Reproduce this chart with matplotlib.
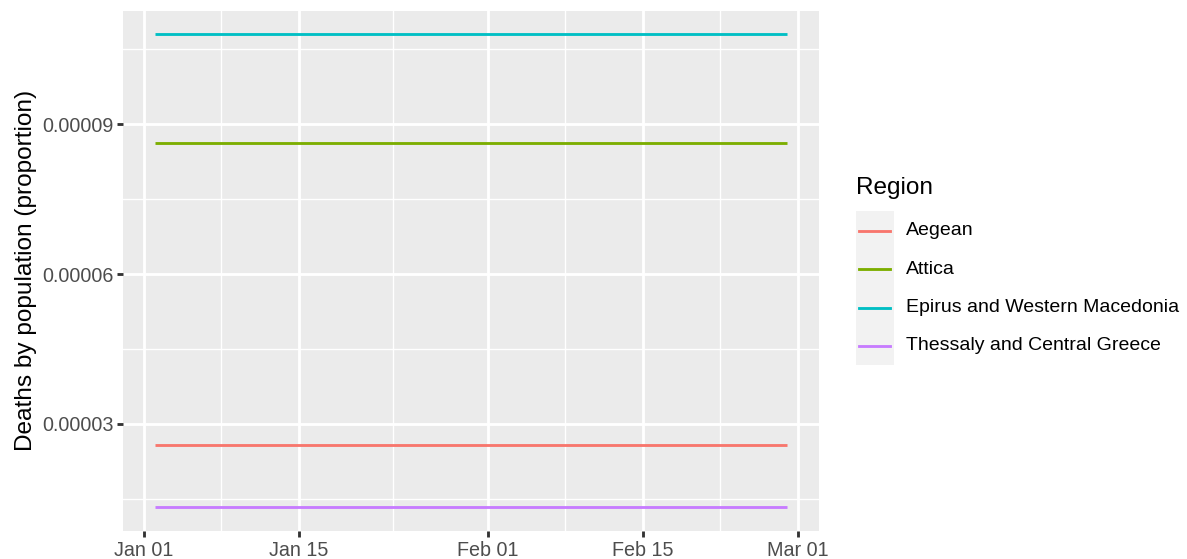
import matplotlib
matplotlib.use("Agg")
import matplotlib.pyplot as plt
import matplotlib.dates as mdates
from matplotlib.lines import Line2D
from matplotlib.patches import Rectangle
import numpy as np
import datetime as dt

plt.rcParams['font.family'] = ['Liberation Sans', 'DejaVu Sans']

# ---- data ----
regions = ["Aegean", "Attica", "Epirus and Western Macedonia", "Thessaly and Central Greece"]
colors = ["#F8766D", "#7CAE00", "#00BFC4", "#C77CFF"]
dates = ["2021-01-02", "2021-02-28"]
aegean = [2.57e-5, 2.57e-5]
attica = [8.63e-5, 8.63e-5]
epirus = [1.08e-4, 1.08e-4]
thessaly = [1.33e-5, 1.33e-5]
series = [aegean, attica, epirus, thessaly]

y_ticks = [3e-5, 6e-5, 9e-5]
y_ticklabels = ["0.00003", "0.00006", "0.00009"]
x_ticks = ["2021-01-01", "2021-01-15", "2021-02-01", "2021-02-15", "2021-03-01"]
x_ticklabels = ["Jan 01", "Jan 15", "Feb 01", "Feb 15", "Mar 01"]

W, H = 1187, 559
fig = plt.figure(figsize=(W / 100, H / 100), dpi=100)
L, R, T, B = 123.3, 818.5, 10.8, 531.0
ax = fig.add_axes([L / W, 1 - B / H, (R - L) / W, (B - T) / H])
ax.set_facecolor("#EBEBEB")

d = [dt.datetime.strptime(s, "%Y-%m-%d") for s in dates]
for vals, c, name in zip(series, colors, regions):
    ax.plot(d, vals, color=c, lw=2.05, label=name, solid_capstyle="butt", zorder=3)

# limits with ggplot 5% expansion
dn = mdates.date2num(d)
xr = dn[1] - dn[0]
ax.set_xlim(dn[0] - 0.05 * xr, dn[1] + 0.05 * xr)
allv = np.concatenate([np.array(s) for s in series])
yr = allv.max() - allv.min()
ax.set_ylim(allv.min() - 0.05 * yr, allv.max() + 0.05 * yr)

xt = mdates.date2num([dt.datetime.strptime(s, "%Y-%m-%d") for s in x_ticks])
ax.set_xticks(xt)
ax.set_xticklabels(x_ticklabels)
ax.set_xticks((xt[:-1] + xt[1:]) / 2, minor=True)
ax.set_yticks(y_ticks)
ax.set_yticklabels(y_ticklabels)
yt = np.array([0.0] + y_ticks + [1.2e-4])
ax.set_yticks((yt[:-1] + yt[1:]) / 2, minor=True)

ax.grid(which="major", color="white", lw=2.05)
ax.grid(which="minor", color="white", lw=1.0)
ax.set_axisbelow(True)
for s in ax.spines.values():
    s.set_visible(False)
ax.tick_params(which="major", length=4.0, width=2.05, color="#333333",
               labelsize=14.2, labelcolor="#4D4D4D", pad=3)
ax.tick_params(which="minor", length=0)

ax.set_ylabel("Deaths by population (proportion)", fontsize=17.6, color="black", labelpad=4)

# legend (ggplot style)
fig.text(855.7 / W, 1 - 188 / H, "Region", fontsize=17.6, va="center", ha="left")
fig.add_artist(Rectangle((855.7 / W, 1 - 365 / H), (893.7 - 855.7) / W, (365 - 211) / H,
                         transform=fig.transFigure, facecolor="#F2F2F2", edgecolor="none"))
key_y = [230.7, 269.3, 307.7, 346.0]
for name, c, ky in zip(regions, colors, key_y):
    fig.add_artist(Line2D([859 / W, 890 / W], [1 - ky / H, 1 - ky / H], color=c, lw=2.05,
                          transform=fig.transFigure))
    fig.text(906 / W, 1 - ky / H, name, fontsize=14.0, va="center", ha="left", color="black")

fig.savefig("out.png", dpi=100)
